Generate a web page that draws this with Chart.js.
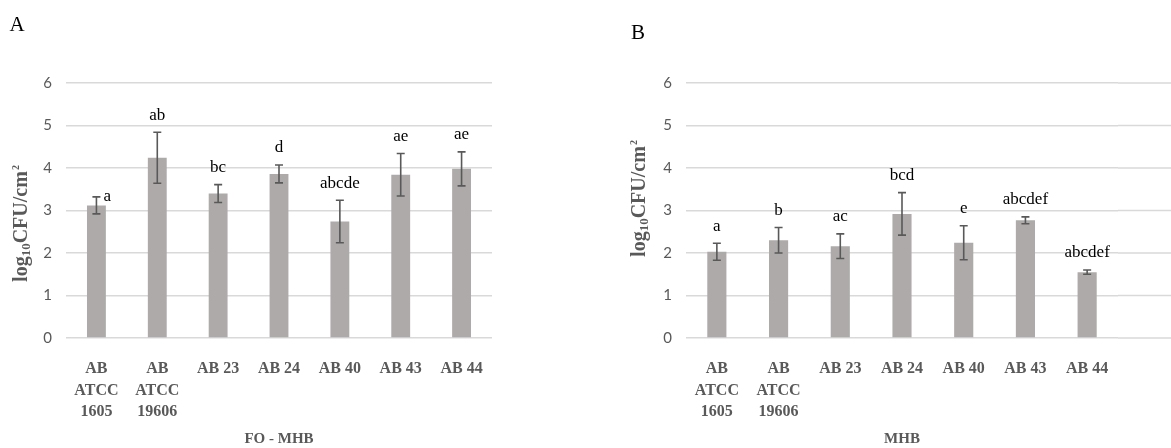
<!DOCTYPE html>
<html>
<head>
<meta charset="utf-8">
<script src="https://cdn.jsdelivr.net/npm/chart.js@4/dist/chart.umd.min.js"></script>
<style>
  html, body { margin: 0; padding: 0; background: #fff; }
  #wrap { position: relative; width: 1171px; height: 448px; overflow: hidden; }
  canvas { position: absolute; top: 0; }
  #chartA { left: 0; }
  #chartB { left: 590px; }
</style>
</head>
<body>
<div id="wrap">
  <canvas id="chartA" width="590" height="448"></canvas>
  <canvas id="chartB" width="581" height="448"></canvas>
</div>
<script>
const strains = [['AB', 'ATCC', '1605'], ['AB', 'ATCC', '19606'], 'AB 23', 'AB 24', 'AB 40', 'AB 43', 'AB 44'];
const yTicks = [0, 1, 2, 3, 4, 5, 6];

// FO - MHB
const foMhbMean = [3.12, 4.24, 3.40, 3.86, 2.74, 3.84, 3.98];
const foMhbSd = [0.20, 0.60, 0.21, 0.21, 0.50, 0.50, 0.40];
const foMhbLetters = ['a', 'ab', 'bc', 'd', 'abcde', 'ae', 'ae'];

// MHB
const mhbMean = [2.03, 2.30, 2.16, 2.92, 2.24, 2.77, 1.55];
const mhbSd = [0.20, 0.30, 0.29, 0.50, 0.40, 0.08, 0.05];
const mhbLetters = ['a', 'b', 'ac', 'bcd', 'e', 'abcdef', 'abcdef'];

const SERIF = '"Liberation Serif", "Times New Roman", serif';
const SANS = 'Lato, "Open Sans", sans-serif';
const GRID = '#d9d9d9';
const TEXT_GREY = '#595959';

// error bars + significance letters
const errorBarPlugin = {
  id: 'errorBars',
  afterDatasetsDraw(chart, args, opts) {
    const ctx = chart.ctx;
    const y = chart.scales.y;
    const meta = chart.getDatasetMeta(0);
    ctx.save();
    meta.data.forEach((bar, i) => {
      const m = opts.mean[i], s = opts.sd[i];
      const top = y.getPixelForValue(m + s);
      const bot = y.getPixelForValue(m - s);
      const x = bar.x;
      ctx.strokeStyle = TEXT_GREY;
      ctx.lineWidth = 1.6;
      ctx.beginPath();
      ctx.moveTo(x, top); ctx.lineTo(x, bot);
      ctx.moveTo(x - 4, top); ctx.lineTo(x + 4, top);
      ctx.moveTo(x - 4, bot); ctx.lineTo(x + 4, bot);
      ctx.stroke();

      ctx.fillStyle = '#000';
      ctx.font = '17px ' + SERIF;
      ctx.textBaseline = 'middle';
      if (opts.beside === i) {
        ctx.textAlign = 'left';
        ctx.fillText(opts.letters[i], x + 7, top);
      } else {
        ctx.textAlign = 'center';
        ctx.fillText(opts.letters[i], x, top - 17);
      }
    });
    ctx.restore();
  }
};

// y title with sub/superscript, x title, panel letter, grid extension
const decorPlugin = {
  id: 'decor',
  beforeDatasetsDraw(chart, args, opts) {
    if (!opts.gridTo) return;
    const ctx = chart.ctx;
    const y = chart.scales.y;
    ctx.save();
    ctx.strokeStyle = GRID;
    ctx.lineWidth = 1.5;
    y.ticks.forEach(t => {
      const py = y.getPixelForValue(t.value);
      ctx.beginPath();
      ctx.moveTo(chart.chartArea.right, py);
      ctx.lineTo(opts.gridTo, py);
      ctx.stroke();
    });
    ctx.restore();
  },
  afterDraw(chart, args, opts) {
    const ctx = chart.ctx;
    const area = chart.chartArea;
    ctx.save();

    // panel letter
    ctx.fillStyle = '#000';
    ctx.font = '21px ' + SERIF;
    ctx.textAlign = 'center';
    ctx.textBaseline = 'middle';
    ctx.fillText(opts.panel, opts.panelX, opts.panelY);

    // x title
    ctx.fillStyle = TEXT_GREY;
    ctx.font = 'bold 15px ' + SERIF;
    ctx.fillText(opts.xTitle, (area.left + area.right) / 2, 439);

    // y title: log10CFU/cm2
    const big = 'bold 20px ' + SERIF;
    const sub = 'bold 13px ' + SERIF;
    const sup = 'bold 10px ' + SERIF;
    const parts = [
      { t: 'log', f: big, dy: 0 },
      { t: '10', f: sub, dy: 5 },
      { t: 'CFU/cm', f: big, dy: 0 },
      { t: '2', f: sup, dy: -6 }
    ];
    let total = 0;
    parts.forEach(p => { ctx.font = p.f; p.w = ctx.measureText(p.t).width; total += p.w; });
    ctx.translate(opts.yTitleX, opts.yTitleY);
    ctx.rotate(-Math.PI / 2);
    ctx.textAlign = 'left';
    ctx.textBaseline = 'middle';
    let px = -total / 2;
    parts.forEach(p => {
      ctx.font = p.f;
      ctx.fillText(p.t, px + (p.t === '2' ? 1 : 0), p.dy);
      px += p.w;
    });
    ctx.restore();
  }
};

const initializeChart = (canvasId, mean, sd, letters, extra) => {
  const ctx = document.getElementById(canvasId).getContext('2d');
  return new Chart(ctx, {
    type: 'bar',
    data: {
      labels: strains,
      datasets: [{
        data: mean,
        backgroundColor: '#aeaaaa',
        borderWidth: 0,
        barPercentage: 0.31,
        categoryPercentage: 1.0
      }]
    },
    options: {
      responsive: false,
      animation: false,
      devicePixelRatio: 1,
      layout: { padding: { top: 83, right: extra.padRight, bottom: 0, left: 0 } },
      plugins: {
        legend: { display: false },
        tooltip: { enabled: false },
        errorBars: { mean: mean, sd: sd, letters: letters, beside: extra.beside },
        decor: extra.decor
      },
      scales: {
        x: {
          grid: { display: false },
          border: { display: false },
          ticks: {
            color: TEXT_GREY,
            font: { family: SERIF, size: 16, weight: 'bold', lineHeight: 1.35 },
            padding: 12,
            maxRotation: 0,
            autoSkip: false
          },
          afterFit: s => { s.height = 448 - 83 - 255; }
        },
        y: {
          min: 0,
          max: 6,
          afterBuildTicks: s => { s.ticks = yTicks.map(v => ({ value: v })); },
          grid: { color: GRID, lineWidth: 1.5, drawTicks: false },
          border: { display: false },
          ticks: {
            color: TEXT_GREY,
            font: { family: SANS, size: 15 },
            padding: 14
          },
          afterFit: s => { s.width = extra.yWidth; }
        }
      }
    },
    plugins: [errorBarPlugin, decorPlugin]
  });
};

initializeChart('chartA', foMhbMean, foMhbSd, foMhbLetters, {
  padRight: 98,
  yWidth: 66,
  beside: 0,
  decor: { panel: 'A', panelX: 17, panelY: 25, xTitle: 'FO - MHB', yTitleX: 22, yTitleY: 224 }
});

initializeChart('chartB', mhbMean, mhbSd, mhbLetters, {
  padRight: 53,
  yWidth: 96,
  beside: -1,
  decor: { panel: 'B', panelX: 48, panelY: 33, xTitle: 'MHB', yTitleX: 50, yTitleY: 199, gridTo: 581 }
});
</script>
</body>
</html>
